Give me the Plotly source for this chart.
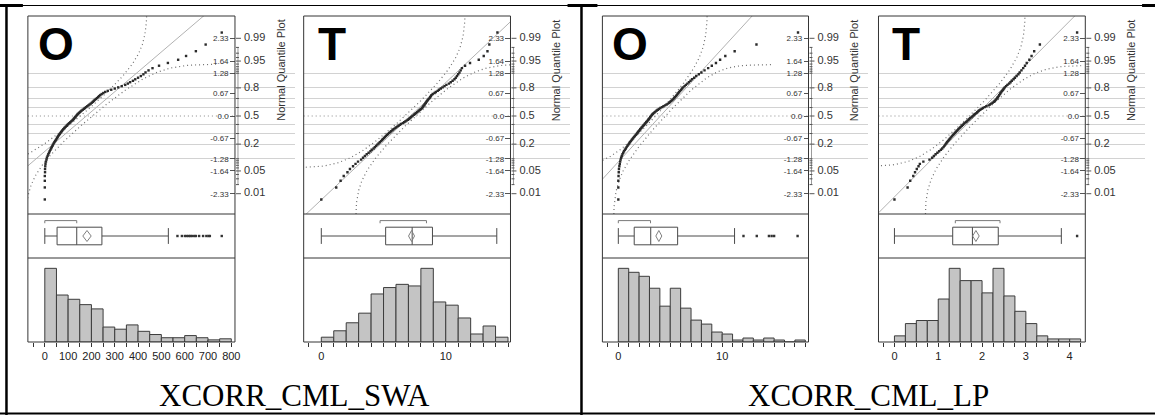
import math
import numpy as np
import plotly.graph_objects as go

W, H = 1160, 415

# ---------------- data ----------------
panel_letters = ["O", "T", "O", "T"]
captions = ["XCORR_CML_SWA", "XCORR_CML_LP"]

# sorted sample values (normal quantile plot points)
o_swa_values = [0, 0, 0, 0, 1, 1, 2, 3, 5, 7,
                9, 12, 15, 18, 21, 24, 27, 30, 33, 35,
                38, 41, 44, 47, 50, 53, 55, 58, 61, 64,
                67, 70, 73, 76, 79, 83, 86, 90, 94, 97,
                101, 105, 109, 113, 117, 121, 124, 127, 130, 133,
                136, 139, 142, 146, 150, 154, 158, 163, 168, 172,
                177, 182, 187, 192, 197, 202, 206, 210, 214, 219,
                224, 229, 233, 238, 244, 251, 259, 270, 285, 300,
                315, 330, 345, 356, 366, 378, 388, 400, 412, 423,
                432, 445, 462, 490, 528, 572, 606, 648, 690, 759]
t_swa_values = [0, 1.2, 1.55, 1.8, 2.1, 2.3, 2.55, 2.75, 2.95, 3.2,
                3.35, 3.5, 3.65, 3.8, 3.95, 4.05, 4.2, 4.3, 4.4, 4.5,
                4.6, 4.7, 4.8, 4.88, 4.95, 5.05, 5.12, 5.2, 5.28, 5.35,
                5.45, 5.55, 5.62, 5.72, 5.8, 5.9, 6.0, 6.1, 6.2, 6.3,
                6.4, 6.55, 6.65, 6.75, 6.85, 6.95, 7.05, 7.12, 7.2, 7.28,
                7.35, 7.45, 7.52, 7.6, 7.7, 7.78, 7.85, 7.95, 8.0, 8.1,
                8.15, 8.2, 8.25, 8.3, 8.35, 8.4, 8.45, 8.5, 8.55, 8.62,
                8.7, 8.75, 8.8, 8.85, 8.95, 9.1, 9.2, 9.35, 9.45, 9.6,
                9.75, 9.9, 10.05, 10.25, 10.4, 10.55, 10.7, 10.8, 10.9, 11.0,
                11.1, 11.2, 11.3, 11.55, 11.95, 12.65, 13.05, 13.35, 13.5, 14.15]
o_lp_values = [0, 0, 0, 0.02, 0.04, 0.06, 0.1, 0.14, 0.18, 0.22,
               0.27, 0.33, 0.4, 0.47, 0.55, 0.63, 0.72, 0.8, 0.88, 0.96,
               1.04, 1.12, 1.2, 1.28, 1.36, 1.44, 1.52, 1.6, 1.68, 1.76,
               1.83, 1.9, 1.97, 2.04, 2.11, 2.18, 2.25, 2.32, 2.4, 2.47,
               2.54, 2.61, 2.68, 2.75, 2.82, 2.88, 2.95, 3.01, 3.07, 3.12,
               3.18, 3.25, 3.32, 3.4, 3.5, 3.6, 3.7, 3.8, 3.92, 4.05,
               4.2, 4.35, 4.5, 4.65, 4.78, 4.9, 5.0, 5.1, 5.2, 5.3,
               5.38, 5.46, 5.55, 5.62, 5.7, 5.78, 5.86, 5.95, 6.05, 6.15,
               6.25, 6.38, 6.5, 6.65, 6.8, 6.95, 7.1, 7.3, 7.5, 7.75,
               8.0, 8.3, 8.65, 9.0, 9.4, 9.8, 10.3, 11.2, 13.3, 17.3]
t_lp_values = [0, 0.3, 0.36, 0.43, 0.47, 0.51, 0.55, 0.58, 0.66, 0.8,
               0.86, 0.9, 0.94, 0.98, 1.02, 1.06, 1.09, 1.12, 1.14, 1.16,
               1.18, 1.2, 1.22, 1.24, 1.26, 1.28, 1.3, 1.32, 1.34, 1.36,
               1.38, 1.4, 1.42, 1.44, 1.46, 1.48, 1.5, 1.52, 1.54, 1.56,
               1.58, 1.6, 1.63, 1.65, 1.67, 1.69, 1.71, 1.73, 1.76, 1.78,
               1.8, 1.82, 1.84, 1.87, 1.89, 1.91, 1.93, 1.96, 1.99, 2.02,
               2.06, 2.1, 2.15, 2.18, 2.21, 2.24, 2.27, 2.29, 2.31, 2.33,
               2.35, 2.36, 2.38, 2.39, 2.41, 2.42, 2.44, 2.46, 2.48, 2.5,
               2.52, 2.55, 2.58, 2.62, 2.65, 2.68, 2.72, 2.75, 2.79, 2.83,
               2.86, 2.9, 2.94, 2.98, 3.02, 3.08, 3.13, 3.19, 3.32, 4.17]

# histogram bin counts (bins start at 0)
o_swa_counts = [69, 44, 40, 35, 31, 14, 12, 16, 10, 7, 4, 4, 6, 4, 2, 3]
t_swa_counts = [3, 7, 12, 18, 30, 34, 36, 35, 46, 25, 23, 15, 5, 10, 3]
o_lp_counts = [37, 35, 33, 27, 18, 27, 17, 11, 9, 5, 4, 1, 2, 1, 2, 1, 0, 1]
t_lp_counts = [2, 6, 7, 7, 14, 24, 20, 20, 16, 24, 15, 10, 6, 2, 1, 1, 1]
bin_widths = [50, 1, 1, 0.25]

# outlier box plot summaries
box_low = [0, 0, 0, 0]
box_q1 = [52.6, 5.17, 1.53, 1.33]
box_median = [137, 7.3, 3.12, 1.78]
box_q3 = [245, 8.93, 5.71, 2.37]
box_high = [530, 14.1, 11.19, 3.81]
sample_mean = [181, 7.25, 3.9, 1.86]
mean_ci_half = [18, 0.24, 0.29, 0.075]
shortest_half_lo = [0, 4.72, 0, 1.39]
shortest_half_hi = [137, 8.45, 3.1, 2.41]
o_swa_outliers = [569, 588, 601, 609, 617, 624, 631, 641, 648, 662, 679, 693, 702, 708, 759]
t_swa_outliers = []
o_lp_outliers = [12.05, 13.33, 14.5, 14.76, 15.0, 17.26]
t_lp_outliers = [4.17]

# fitted normal (reference line and confidence band)
fit_mu = [178, 7.15, 4.05, 1.84]
fit_sigma = [168, 2.85, 2.95, 0.76]
band_halfwidth = [0.06, 0.06, 0.062, 0.065]

prob_major = [0.01, 0.05, 0.2, 0.5, 0.8, 0.95, 0.99]
prob_major_text = ["0.01", "0.05", "0.2", "0.5", "0.8", "0.95", "0.99"]
prob_minor = [0.02, 0.03, 0.04, 0.06, 0.07, 0.08, 0.09, 0.1, 0.3, 0.4,
              0.6, 0.7, 0.9, 0.91, 0.92, 0.93, 0.94, 0.96, 0.97, 0.98]
prob_grid = [0.1, 0.2, 0.3, 0.4, 0.6, 0.7, 0.8, 0.9]
quantile_tick_probs = [0.01, 0.05, 0.1, 0.25, 0.5, 0.75, 0.9, 0.95, 0.99]
quantile_tick_text = ["-2.33", "-1.64", "-1.28", "-0.67", "0.0", "0.67", "1.28", "1.64", "2.33"]

values = [o_swa_values, t_swa_values, o_lp_values, t_lp_values]
counts = [o_swa_counts, t_swa_counts, o_lp_counts, t_lp_counts]
outliers = [o_swa_outliers, t_swa_outliers, o_lp_outliers, t_lp_outliers]

# ---------------- layout geometry (pixels) ----------------
frame_left = [28, 305, 605, 882.3]
frame_right = [236, 512.7, 812, 1090]
x_ranges = [(-72.6, 815.8), (-1.416, 15.2), (-1.534, 18.31), (-0.364, 4.357)]
major_dtick = [100, 10, 10, 1]
minor_dtick = [50, 1, 1, 0.25]
z_range = (-2.934, 2.994)
TOP, Q_BOTTOM, B_BOTTOM, H_BOTTOM = 16, 214, 258, 342

SANS = "Liberation Sans, Arial, sans-serif"
SERIF = "Liberation Serif, Times New Roman, serif"
FRAME = "#353535"


def fx(px):
    return px / W


def fy(py):
    return 1 - py / H


def norm_ppf(p):
    a = [-3.969683028665376e+01, 2.209460984245205e+02, -2.759285104469687e+02,
         1.383577518672690e+02, -3.066479806614716e+01, 2.506628277459239e+00]
    b = [-5.447609879822406e+01, 1.615858368580409e+02, -1.556989798598866e+02,
         6.680131188771972e+01, -1.328068155288572e+01]
    c = [-7.784894002430293e-03, -3.223964580411365e-01, -2.400758277161838e+00,
         -2.549732539343734e+00, 4.374664141464968e+00, 2.938163982698783e+00]
    d = [7.784695709041462e-03, 3.224671290700398e-01, 2.445134137142996e+00,
         3.754408661907416e+00]
    plow = 0.02425
    if p < plow:
        q = math.sqrt(-2 * math.log(p))
        return (((((c[0]*q+c[1])*q+c[2])*q+c[3])*q+c[4])*q+c[5]) / ((((d[0]*q+d[1])*q+d[2])*q+d[3])*q+1)
    if p > 1 - plow:
        q = math.sqrt(-2 * math.log(1 - p))
        return -(((((c[0]*q+c[1])*q+c[2])*q+c[3])*q+c[4])*q+c[5]) / ((((d[0]*q+d[1])*q+d[2])*q+d[3])*q+1)
    q = p - 0.5
    r = q * q
    return (((((a[0]*r+a[1])*r+a[2])*r+a[3])*r+a[4])*r+a[5])*q / (((((b[0]*r+b[1])*r+b[2])*r+b[3])*r+b[4])*r+1)


def norm_cdf(z):
    return 0.5 * (1 + math.erf(z / math.sqrt(2)))


def xn(i):
    return "x" if i == 1 else f"x{i}"


def yn(i):
    return "y" if i == 1 else f"y{i}"


def xk(i):
    return "xaxis" if i == 1 else f"xaxis{i}"


def yk(i):
    return "yaxis" if i == 1 else f"yaxis{i}"


fig = go.Figure()
axes = {}
shapes = []
annotations = []

for k in range(4):
    qi, bi, hi, pi = 4 * k + 1, 4 * k + 2, 4 * k + 3, 4 * k + 4
    L, R = frame_left[k], frame_right[k]
    xdom = [fx(L), fx(R)]
    mu, sd, dband = fit_mu[k], fit_sigma[k], band_halfwidth[k]

    # ---- axes ----
    hidden = dict(visible=False, showgrid=False, zeroline=False)
    axes[xk(qi)] = dict(domain=xdom, range=list(x_ranges[k]), anchor=yn(qi), **hidden)
    axes[yk(qi)] = dict(
        domain=[fy(Q_BOTTOM), fy(TOP)], range=list(z_range), anchor=xn(qi), side="right",
        showgrid=False, zeroline=False, showline=False,
        tickmode="array", tickvals=[norm_ppf(p) for p in quantile_tick_probs],
        ticktext=quantile_tick_text, ticks="inside", ticklen=5, tickcolor="#555",
        ticklabelposition="inside", tickfont=dict(family=SANS, size=8, color="#333"),
        minor=dict(tickmode="array", tickvals=[norm_ppf(p) for p in prob_grid],
                   showgrid=True, gridcolor="#d2d2d2", gridwidth=1, ticks=""),
    )
    axes[xk(bi)] = dict(domain=xdom, matches=xn(qi), anchor=yn(bi), **hidden)
    axes[yk(bi)] = dict(domain=[fy(B_BOTTOM), fy(Q_BOTTOM)], range=[-1, 1], anchor=xn(bi), **hidden)
    axes[xk(hi)] = dict(
        domain=xdom, matches=xn(qi), anchor=yn(hi), showgrid=False, zeroline=False, showline=False,
        tick0=0, dtick=major_dtick[k], ticks="outside", ticklen=4, tickcolor="#333",
        tickfont=dict(family=SANS, size=11, color="#222"),
        minor=dict(tick0=0, dtick=minor_dtick[k], ticks="outside", ticklen=4, tickcolor="#333", showgrid=False),
    )
    axes[yk(hi)] = dict(domain=[fy(H_BOTTOM), fy(B_BOTTOM)], range=[0, max(counts[k]) / 0.877],
                        anchor=xn(hi), **hidden)
    axes[xk(pi)] = dict(domain=[fx(R), fx(R + 60)], range=[0, 60], anchor=yn(qi), **hidden)

    # ---- normal quantile plot ----
    zz = np.linspace(z_range[0] - 0.6, z_range[1] + 0.6, 500)
    up_x, up_y, lo_x, lo_y = [], [], [], []
    for z in zz:
        p = norm_cdf(z) - dband
        if p > 1e-7:
            up_x.append(mu + sd * norm_ppf(p))
            up_y.append(z)
        p = norm_cdf(z) + dband
        if p < 1 - 1e-7:
            lo_x.append(mu + sd * norm_ppf(p))
            lo_y.append(z)
    for bx_, by_ in ((up_x, up_y), (lo_x, lo_y)):
        fig.add_trace(go.Scatter(x=bx_, y=by_, mode="lines", xaxis=xn(qi), yaxis=yn(qi),
                                 line=dict(color="#6e6e6e", width=1.2, dash="1px,3px"),
                                 hoverinfo="skip", showlegend=False))
    fig.add_trace(go.Scatter(x=[mu + sd * z_range[0] * 1.2, mu + sd * z_range[1] * 1.2],
                             y=[z_range[0] * 1.2, z_range[1] * 1.2], mode="lines",
                             xaxis=xn(qi), yaxis=yn(qi), line=dict(color="#b2b2b2", width=1),
                             hoverinfo="skip", showlegend=False))
    vals = sorted(values[k])
    m = len(vals)
    scores = [norm_ppf((i + 1 - 0.375) / (m + 0.25)) for i in range(m)]
    fig.add_trace(go.Scatter(x=vals, y=scores, mode="markers", xaxis=xn(qi), yaxis=yn(qi),
                             marker=dict(symbol="square", size=2.4, color="#2a2a2a", line=dict(width=0)),
                             showlegend=False))
    shapes.append(dict(type="line", xref=f"{xn(qi)} domain", yref=yn(qi), x0=0, x1=1, y0=0, y1=0,
                       line=dict(color="#8a8a8a", width=1, dash="1px,3px"), layer="below"))

    # probability axis (outer scale)
    tick_x, tick_y = [], []
    for p in prob_major:
        z = norm_ppf(p)
        tick_x += [1, 6, None]
        tick_y += [z, z, None]
    for p in prob_minor:
        z = norm_ppf(p)
        tick_x += [1, 4, None]
        tick_y += [z, z, None]
    fig.add_trace(go.Scatter(x=[3, 3], y=[norm_ppf(0.02), norm_ppf(0.98)], mode="lines",
                             xaxis=xn(pi), yaxis=yn(qi), line=dict(color="#9a9a9a", width=1),
                             hoverinfo="skip", showlegend=False))
    fig.add_trace(go.Scatter(x=tick_x, y=tick_y, mode="lines", xaxis=xn(pi), yaxis=yn(qi),
                             line=dict(color="#555", width=1), hoverinfo="skip", showlegend=False))
    fig.add_trace(go.Scatter(x=[9] * len(prob_major), y=[norm_ppf(p) for p in prob_major],
                             text=prob_major_text, mode="text", textposition="middle right",
                             textfont=dict(family=SANS, size=11, color="#333"), cliponaxis=False,
                             xaxis=xn(pi), yaxis=yn(qi), hoverinfo="skip", showlegend=False))

    # ---- box plot ----
    fig.add_trace(go.Box(orientation="h", y=[0], q1=[box_q1[k]], median=[box_median[k]],
                         q3=[box_q3[k]], lowerfence=[box_low[k]], upperfence=[box_high[k]],
                         width=0.8, whiskerwidth=0.9, fillcolor="white",
                         line=dict(color="#4a4a4a", width=1), boxpoints=False,
                         xaxis=xn(bi), yaxis=yn(bi), showlegend=False, hoverinfo="skip"))
    mn, ci = sample_mean[k], mean_ci_half[k]
    fig.add_trace(go.Scatter(x=[mn - ci, mn, mn + ci, mn, mn - ci], y=[0, 0.25, 0, -0.25, 0],
                             mode="lines", line=dict(color="#808080", width=1),
                             xaxis=xn(bi), yaxis=yn(bi), hoverinfo="skip", showlegend=False))
    a, b = shortest_half_lo[k], shortest_half_hi[k]
    fig.add_trace(go.Scatter(x=[a, a, b, b], y=[0.58, 0.7, 0.7, 0.58], mode="lines",
                             line=dict(color="#7a7a7a", width=1),
                             xaxis=xn(bi), yaxis=yn(bi), hoverinfo="skip", showlegend=False))
    if outliers[k]:
        fig.add_trace(go.Scatter(x=outliers[k], y=[0] * len(outliers[k]), mode="markers",
                                 marker=dict(symbol="square", size=2.4, color="#333", line=dict(width=0)),
                                 xaxis=xn(bi), yaxis=yn(bi), hoverinfo="skip", showlegend=False))

    # ---- histogram ----
    bw = bin_widths[k]
    centers = [(i + 0.5) * bw for i in range(len(counts[k]))]
    fig.add_trace(go.Bar(x=centers, y=counts[k], width=[bw] * len(centers),
                         marker=dict(color="#c4c4c4", line=dict(color="#3c3c3c", width=1)),
                         xaxis=xn(hi), yaxis=yn(hi), hoverinfo="skip", showlegend=False))

    # ---- frame ----
    line = dict(color=FRAME, width=1)
    for yy in (TOP, Q_BOTTOM, B_BOTTOM, H_BOTTOM):
        shapes.append(dict(type="line", xref=f"{xn(qi)} domain", yref="paper", x0=0, x1=1,
                           y0=fy(yy), y1=fy(yy), line=line))
    for xx in (0, 1):
        shapes.append(dict(type="line", xref=f"{xn(qi)} domain", yref="paper", x0=xx, x1=xx,
                           y0=fy(H_BOTTOM), y1=fy(TOP), line=line))

    # ---- texts ----
    letter = panel_letters[k]
    annotations.append(dict(text=letter, xref="paper", yref="paper",
                            x=fx(L + (8 if letter == "O" else 12)), y=fy(16),
                            xanchor="left", yanchor="top", showarrow=False,
                            font=dict(family=SANS, size=46, color="black", weight="bold")))
    annotations.append(dict(text="Normal Quantile Plot", xref="paper", yref="paper",
                            x=fx(R + 46), y=fy(70), xanchor="center", yanchor="middle",
                            textangle=-90, showarrow=False,
                            font=dict(family=SANS, size=11, color="#333")))

# captions
for cap, cx in zip(captions, (295.5, 872)):
    annotations.append(dict(text=cap, xref="paper", yref="paper", x=fx(cx), y=fy(395),
                            xanchor="center", yanchor="middle", showarrow=False,
                            font=dict(family=SERIF, size=31, color="black")))

# table rules
def rule(x0, y0, x1, y1, w):
    shapes.append(dict(type="line", xref="paper", yref="paper", x0=fx(x0), x1=fx(x1),
                       y0=fy(y0), y1=fy(y1), line=dict(color="black", width=w)))

rule(0, 5.5, W, 5.5, 1)
rule(0, 5.5, 23, 5.5, 3)
rule(570, 5.5, 600, 5.5, 3)
rule(1147, 5.5, W, 5.5, 3)
rule(6.5, 5, 6.5, 415, 2.5)
rule(584, 5, 584, 415, 2.5)
rule(0, 413.5, W, 413.5, 2)

fig.update_layout(
    width=W, height=H, margin=dict(l=0, r=0, t=0, b=0), autosize=False,
    paper_bgcolor="white", plot_bgcolor="white", barmode="overlay",
    shapes=shapes, annotations=annotations, showlegend=False,
    **axes,
)
fig.write_html("out.html")
